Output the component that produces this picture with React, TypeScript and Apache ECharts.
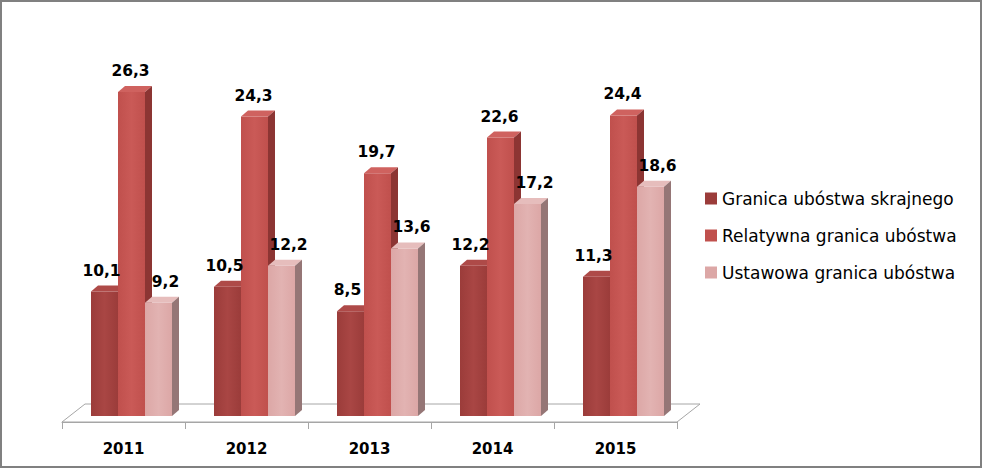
import React, { useEffect, useRef } from "react";
import * as echarts from "echarts";

const years = ["2011", "2012", "2013", "2014", "2015"];
const seriesNames = [
  "Granica ubóstwa skrajnego",
  "Relatywna granica ubóstwa",
  "Ustawowa granica ubóstwa",
];
const extremeLine = [10.1, 10.5, 8.5, 12.2, 11.3];
const relativeLine = [26.3, 24.3, 19.7, 22.6, 24.4];
const statutoryLine = [9.2, 12.2, 13.6, 17.2, 18.6];
const seriesValues = [extremeLine, relativeLine, statutoryLine];

// styles
const palette = [
  { front: "#9B3C3A", frontLight: "#A94644", top: "#AE4A48", side: "#7A2C2A", labelDx: -3 },
  { front: "#C0504D", frontLight: "#CA5A57", top: "#CF625F", side: "#8C3533", labelDx: -1 },
  { front: "#DCA7A6", frontLight: "#E2B3B2", top: "#E6BDBC", side: "#957676", labelDx: 7 },
];
const FONT = "DejaVu Sans";
const BAR_W = 27;
const DEPTH_X = 7;
const DEPTH_Y = 6;
const GROUP_OFFSET = 29;
const BAR_SHIFT_Y = 6;
const FLOOR_DX = 23;
const FLOOR_DY = 18;

function fmt(v: number) {
  return v.toFixed(1).replace(".", ",");
}

function makeBarRender(s: number) {
  return (params: any, api: any) => {
    const i = api.value(0);
    const v = api.value(1);
    const base = api.coord([i, 0]);
    const topPt = api.coord([i, v]);
    const cw = api.size([1, 0])[0];
    const left = base[0] - cw / 2 + GROUP_OFFSET + s * BAR_W;
    const bottom = base[1] - BAR_SHIFT_Y;
    const T = topPt[1] - BAR_SHIFT_Y;
    const p = palette[s];
    return {
      type: "group",
      children: [
        {
          type: "rect",
          shape: { x: left, y: T, width: BAR_W, height: bottom - T },
          style: {
            fill: new echarts.graphic.LinearGradient(0, 0, 1, 0, [
              { offset: 0, color: p.front },
              { offset: 0.5, color: p.frontLight },
              { offset: 1, color: p.front },
            ]),
          },
        },
        {
          type: "polygon",
          shape: {
            points: [
              [left, T],
              [left + BAR_W, T],
              [left + BAR_W + DEPTH_X, T - DEPTH_Y],
              [left + DEPTH_X, T - DEPTH_Y],
            ],
          },
          style: { fill: p.top },
        },
        {
          type: "polygon",
          shape: {
            points: [
              [left + BAR_W, T],
              [left + BAR_W + DEPTH_X, T - DEPTH_Y],
              [left + BAR_W + DEPTH_X, bottom - DEPTH_Y],
              [left + BAR_W, bottom],
            ],
          },
          style: { fill: p.side },
        },
        {
          type: "text",
          z2: 100,
          style: {
            x: left + BAR_W / 2 + p.labelDx,
            y: T - 21,
            text: fmt(v),
            align: "center",
            verticalAlign: "middle",
            fill: "#000",
            font: `bold 15.5px "${FONT}"`,
          },
        },
      ],
    };
  };
}

export default function App() {
  const ref = useRef<HTMLDivElement>(null);
  useEffect(() => {
    if (!ref.current) return;
    const chart = echarts.init(ref.current, null, { renderer: "svg" });
    const barSeries = seriesValues.map((vals, s) => ({
      name: seriesNames[s],
      type: "custom",
      coordinateSystem: "cartesian2d",
      itemStyle: { color: palette[s].front },
      renderItem: makeBarRender(s),
      encode: { x: 0, y: 1 },
      data: vals.map((v, i) => [i, v]),
      z: 3,
    }));
    chart.setOption({
      animation: false,
      backgroundColor: "#fff",
      graphic: [
        {
          type: "rect",
          shape: { x: 1, y: 1, width: 980, height: 466 },
          style: { fill: "none", stroke: "#808080", lineWidth: 2 },
          z: 100,
        },
      ],
      legend: {
        orient: "vertical",
        left: 705,
        top: 190,
        padding: 0,
        icon: "rect",
        itemWidth: 12,
        itemHeight: 12,
        itemGap: 20,
        data: seriesNames,
        textStyle: { fontFamily: FONT, fontSize: 17, color: "#000", lineHeight: 17 },
      },
      grid: { left: 62, top: 52.4, width: 615, height: 369.6 },
      xAxis: {
        type: "category",
        data: years,
        axisLine: { show: true, lineStyle: { color: "#A6A6A6", width: 1 } },
        axisTick: { show: true, length: 7, lineStyle: { color: "#A6A6A6" } },
        axisLabel: {
          margin: 19,
          fontFamily: FONT,
          fontWeight: "bold",
          fontSize: 15,
          color: "#000",
        },
        splitLine: { show: false },
      },
      yAxis: {
        type: "value",
        min: 0,
        max: 30,
        show: false,
        splitLine: { show: false },
      },
      series: [
        {
          name: "floor",
          type: "custom",
          coordinateSystem: "cartesian2d",
          silent: true,
          z: 1,
          data: [[0, 0]],
          encode: { x: 0, y: 1 },
          renderItem: (params: any, api: any) => {
            const base = api.coord([0, 0]);
            const cw = api.size([1, 0])[0];
            const L = base[0] - cw / 2;
            const R = L + cw * years.length;
            const y = base[1];
            return {
              type: "polygon",
              shape: {
                points: [
                  [L, y],
                  [R, y],
                  [R + FLOOR_DX, y - FLOOR_DY],
                  [L + FLOOR_DX, y - FLOOR_DY],
                ],
              },
              style: { fill: "#fff", stroke: "#A6A6A6", lineWidth: 1 },
            };
          },
        },
        ...barSeries,
      ],
    });
    return () => chart.dispose();
  }, []);
  return (
    <div
      ref={ref}
      style={{ position: "fixed", left: 0, top: 0, width: 983, height: 469, background: "#fff" }}
    />
  );
}
